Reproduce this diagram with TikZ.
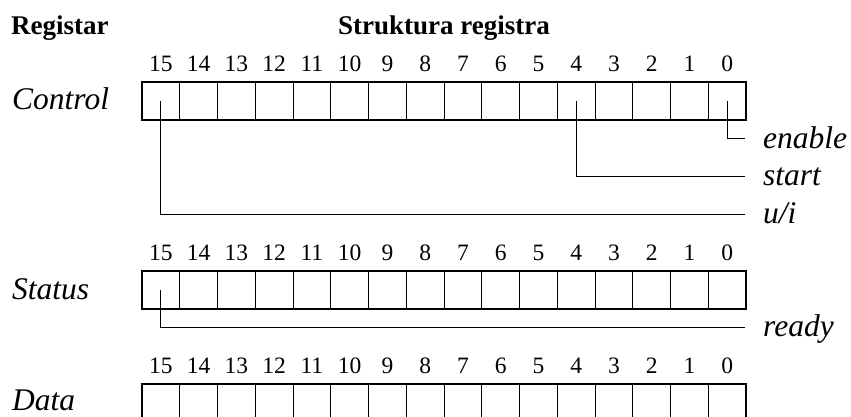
\documentclass[tikz,border=0pt]{standalone}
\usepackage{fontspec}
\setmainfont{Liberation Serif}
\begin{document}
\begin{tikzpicture}[x=1pt,y=-1pt,
  cell/.style={draw, line width=0.9pt, minimum width=37.75pt, minimum height=38pt, inner sep=0pt, outer sep=0pt, anchor=north west},
  frame/.style={draw, line width=1.8pt},
  bitnum/.style={anchor=base, font=\fontsize{23.5}{28}\selectfont, inner sep=0pt},
  reglabel/.style={anchor=base west, font=\fontsize{31.5}{37}\selectfont\itshape, inner sep=0pt},
  head/.style={font=\fontsize{27}{32}\selectfont\bfseries, inner sep=0pt},
  conn/.style={line width=1pt}]
\useasboundingbox (0,0) rectangle (851,416);
\clip (0,0) rectangle (851,416);
% headers
\node[head, anchor=base west] (hreg) at (11,34) {Registar};
\node[head, anchor=base] (hstr) at (444,34) {Struktura registra};
% registers
\foreach \r/\top in {C/82, S/271, D/384} {
  \foreach \i in {0,...,15} {
    \node[cell] (\r\i) at ({746-(\i+1)*37.75},\top) {};
    \node[bitnum] (num\r\i) at ({746-(\i+0.5)*37.75},{\top-10.5}) {\i};
  }
  \draw[frame] (\r15.north west) rectangle (\r0.south east);
}
% register names
\node[reglabel] (lcontrol) at (12,109.5) {Control};
\node[reglabel] (lstatus) at (12,299) {Status};
\node[reglabel] (ldata) at (12,410.5) {Data};
% control connectors
\coordinate (eEnd) at (745,138.3);
\draw[conn] (C0.center) |- (eEnd);
\node[reglabel] (enable) at (763,148) {enable};
\coordinate (sEnd) at (745,176);
\draw[conn] (C4.center) |- (sEnd);
\node[reglabel] (start) at (763,185.5) {start};
\coordinate (uEnd) at (745,214);
\draw[conn] (C15.center) |- (uEnd);
\node[reglabel] (ui) at (763,223.5) {u/i};
% status connector
\coordinate (rEnd) at (745,327);
\draw[conn] (S15.center) |- (rEnd);
\node[reglabel] (ready) at (763,336) {ready};
\end{tikzpicture}
\end{document}
